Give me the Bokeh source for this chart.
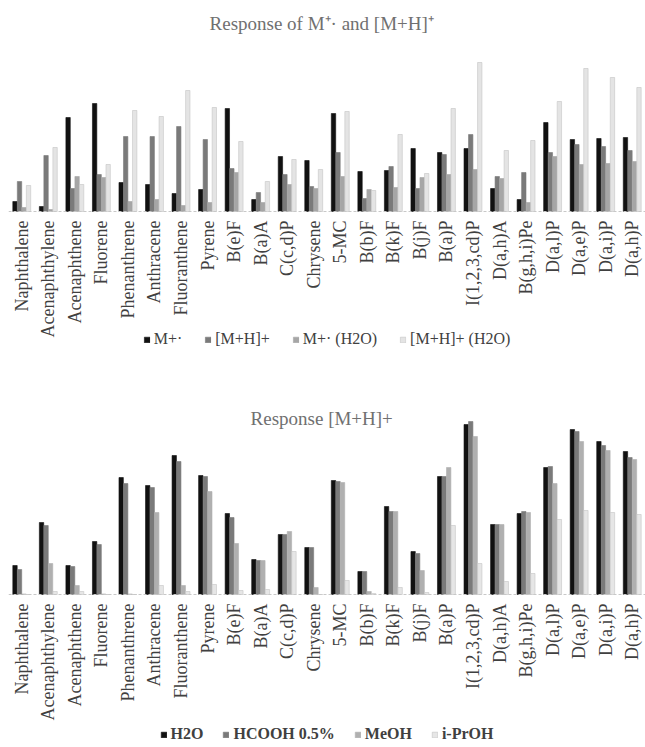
import math
from bokeh.plotting import figure
from bokeh.models import (FactorRange, Range1d, Label, Legend, LegendItem, ColumnDataSource, Span)
from bokeh.core.properties import value
from bokeh.transform import dodge
from bokeh.layouts import column
from bokeh.embed import file_html
from bokeh.resources import INLINE

categories = ["Naphthalene", "Acenaphthylene", "Acenaphthene", "Fluorene", "Phenanthrene",
              "Anthracene", "Fluoranthene", "Pyrene", "B(e)F", "B(a)A", "C(c,d)P", "Chrysene",
              "5-MC", "B(b)F", "B(k)F", "B(j)F", "B(a)P", "I(1,2,3,cd)P", "D(a,h)A",
              "B(g,h,i)Pe", "D(a,l)P", "D(a,e)P", "D(a,i)P", "D(a,h)P"]

# top chart: Response of M+· and [M+H]+
top_series = ["M+·", "[M+H]+", "M+· (H2O)", "[M+H]+ (H2O)"]
top_mplus = [10, 5, 94, 108, 29, 27, 18, 22, 103, 12, 55, 51, 98, 40, 41, 63, 59, 63, 23, 12, 89, 72, 73, 74]
top_mh = [30, 56, 23, 37, 75, 75, 85, 72, 43, 19, 37, 25, 59, 13, 45, 23, 57, 77, 35, 39, 59, 67, 65, 61]
top_mplus_h2o = [4, 2, 35, 34, 10, 12, 6, 9, 39, 9, 27, 23, 35, 22, 24, 34, 37, 42, 33, 9, 55, 47, 48, 50]
top_mh_h2o = [26, 64, 27, 47, 101, 95, 121, 104, 70, 30, 52, 42, 100, 21, 77, 38, 103, 149, 61, 71, 110, 143, 134, 124]

# bottom chart: Response [M+H]+
bot_series = ["H2O", "HCOOH 0.5%", "MeOH", "i-PrOH"]
bot_h2o = [29, 72, 29, 53, 117, 109, 139, 119, 81, 35, 60, 47, 114, 23, 88, 43, 118, 170, 70, 81, 127, 165, 153, 143]
bot_hcooh = [25, 69, 28, 50, 111, 107, 133, 118, 77, 34, 60, 47, 113, 23, 83, 41, 118, 173, 70, 83, 128, 163, 149, 137]
bot_meoh = [0.5, 31, 9, 0.5, 0.5, 82, 9, 103, 51, 34, 63, 7, 112, 3, 83, 24, 127, 158, 70, 82, 111, 153, 144, 135]
bot_iproh = [0, 3, 3, 0, 0, 9, 3, 10, 4, 5, 43, 0, 14, 1, 7, 2, 69, 31, 13, 21, 75, 84, 82, 80]

SERIF = "Liberation Serif"


def make_chart(title, series_names, series_values, colors, height, above, title_y,
               legend_bold, legend_margin, legend_spacing):
    below = height - above
    src = ColumnDataSource(dict(cat=categories,
                                s0=series_values[0], s1=series_values[1],
                                s2=series_values[2], s3=series_values[3],
                                ly=[-9] * len(categories)))
    p = figure(x_range=FactorRange(factors=categories, range_padding=0, factor_padding=0),
               y_range=Range1d(-below, above),
               width=645, height=height,
               x_axis_location=None, y_axis_location=None, toolbar_location=None,
               output_backend="svg", min_border_left=8, min_border_right=0,
               min_border_top=0, min_border_bottom=0)
    p.outline_line_color = None
    p.xgrid.visible = False
    p.ygrid.visible = False
    p.background_fill_color = "white"
    p.border_fill_color = "white"

    p.add_layout(Span(location=0, dimension="width", line_color="#c8c8c8", line_width=1,
                      line_dash="3 2"))

    offsets = [-0.255, -0.085, 0.085, 0.255]
    renderers = []
    for i, off in enumerate(offsets):
        r = p.vbar(x=dodge("cat", off, range=p.x_range), top="s%d" % i, bottom=0, width=0.165,
                   source=src, fill_color=colors[i], line_color=colors[i] if i < 3 else "#c4c4c4",
                   line_width=0.6)
        renderers.append(r)

    p.text(x="cat", y="ly", text="cat", source=src, angle=math.pi / 2,
           text_align="right", text_baseline="middle",
           text_font=value(SERIF), text_font_size="18px", text_color="#404040")

    p.add_layout(Label(x=11.8, y=title_y, text=title, text_align="center", text_baseline="middle",
                       text_font=SERIF, text_font_size="19px", text_color="#707070"))

    items = [LegendItem(label=series_names[i], renderers=[renderers[i]]) for i in range(4)]
    leg = Legend(items=items, orientation="horizontal", location="bottom_center",
                 glyph_width=7, glyph_height=7, label_standoff=4, spacing=legend_spacing,
                 label_text_font=SERIF, label_text_font_size="16px",
                 label_text_font_style="bold" if legend_bold else "normal",
                 label_text_color="#404040", padding=0, margin=legend_margin,
                 border_line_alpha=0, background_fill_alpha=0)
    p.add_layout(leg, "center")
    return p


top_colors = ["#111111", "#7a7a7a", "#a6a6a6", "#e4e4e4"]
bot_colors = ["#111111", "#7a7a7a", "#b0b0b0", "#e6e6e6"]

p1 = make_chart("Response of M\u207a\u00b7 and [M+H]\u207a", top_series,
                [top_mplus, top_mh, top_mplus_h2o, top_mh_h2o], top_colors,
                370, 211, 188, False, 22, 22)
p2 = make_chart("Response [M+H]+", bot_series,
                [bot_h2o, bot_hcooh, bot_meoh, bot_iproh], bot_colors,
                377, 224, 176, True, 4, 19)

layout = column(p1, p2, spacing=0)
open("out.html", "w").write(file_html(layout, INLINE))
